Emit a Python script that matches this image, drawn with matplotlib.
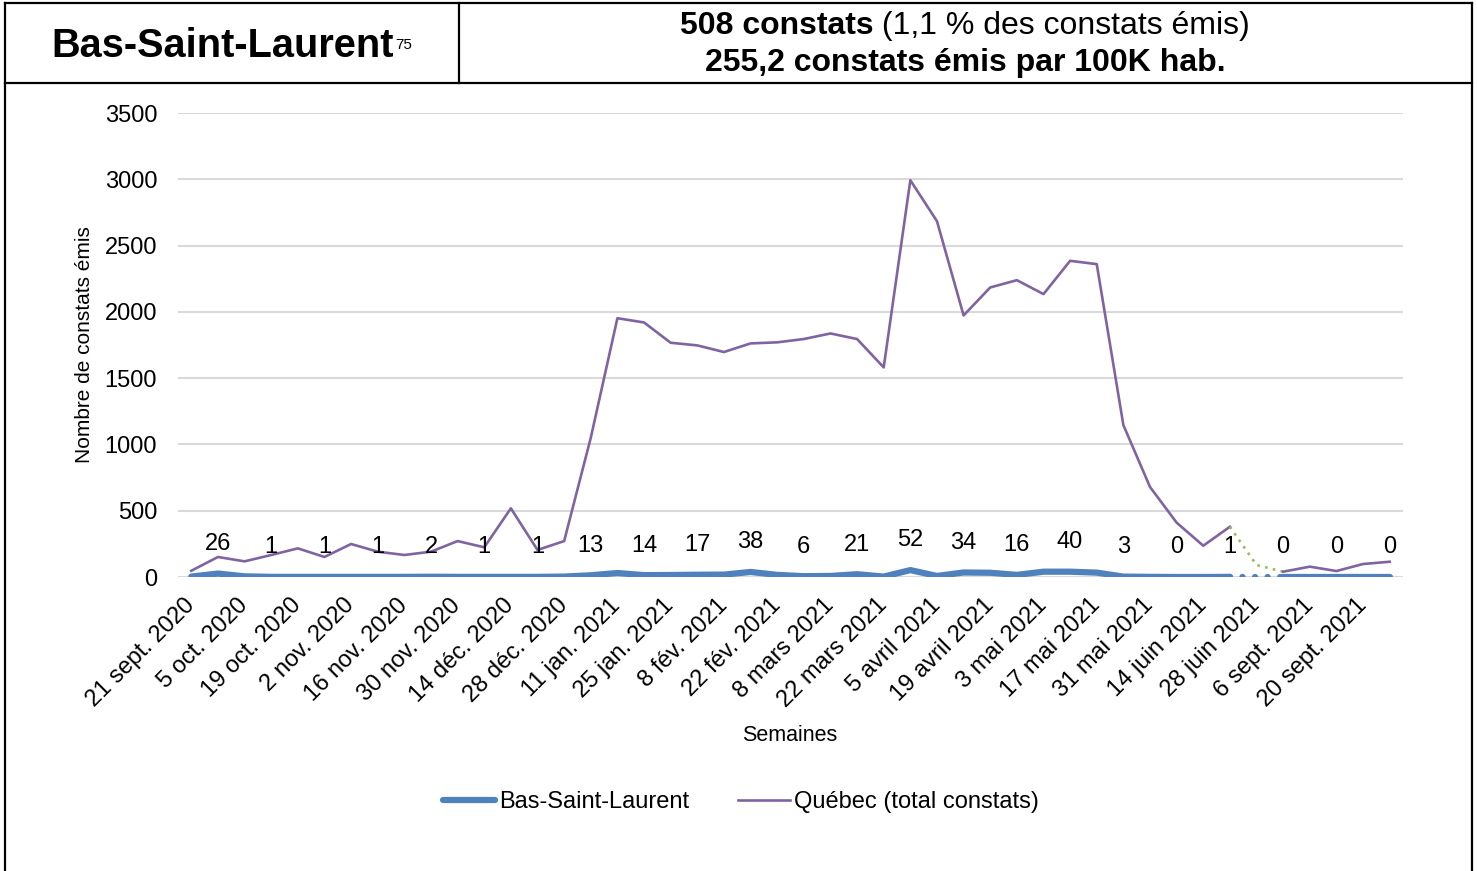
import matplotlib
matplotlib.use("Agg")
import matplotlib.pyplot as plt
from matplotlib.lines import Line2D
import numpy as np

plt.rcParams['font.family'] = ['Liberation Sans', 'DejaVu Sans']

# semaines (une étiquette sur deux est affichée)
semaines = ["21 sept. 2020", "28 sept. 2020", "5 oct. 2020", "12 oct. 2020", "19 oct. 2020",
            "26 oct. 2020", "2 nov. 2020", "9 nov. 2020", "16 nov. 2020", "23 nov. 2020",
            "30 nov. 2020", "7 déc. 2020", "14 déc. 2020", "21 déc. 2020", "28 déc. 2020",
            "4 jan. 2021", "11 jan. 2021", "18 jan. 2021", "25 jan. 2021", "1 fév. 2021",
            "8 fév. 2021", "15 fév. 2021", "22 fév. 2021", "1 mars 2021", "8 mars 2021",
            "15 mars 2021", "22 mars 2021", "29 mars 2021", "5 avril 2021", "12 avril 2021",
            "19 avril 2021", "26 avril 2021", "3 mai 2021", "10 mai 2021", "17 mai 2021",
            "24 mai 2021", "31 mai 2021", "7 juin 2021", "14 juin 2021", "21 juin 2021",
            "28 juin 2021", "30 août 2021", "6 sept. 2021", "13 sept. 2021", "20 sept. 2021",
            "27 sept. 2021"]

bsl = [3, 26, 5, 1, 1, 1, 1, 1, 1, 2, 1, 1, 1, 1, 3, 13, 30, 14, 15, 17,
       18, 38, 16, 6, 8, 21, 3, 52, 8, 34, 32, 16, 40, 40, 33, 3, 1, 0, 0, 1,
       0, 0, 0, 0, 0, 0]

quebec = [47, 151, 118, 166, 216, 151, 249, 191, 166, 191, 271, 224, 518, 204, 271,
          1050, 1952, 1920, 1767, 1747, 1697, 1762, 1770, 1795, 1837, 1795, 1581, 2993,
          2684, 1973, 2184, 2239, 2134, 2385, 2360, 1146, 679, 410, 236, 379,
          90, 40, 78, 45, 98, 115]

bleu = "#4F81BD"
violet = "#8064A2"
vert = "#9BBB59"

W, H = 1477, 871
fig = plt.figure(figsize=(W / 100, H / 100), dpi=100)
ax = fig.add_axes([178 / W, 1 - 577 / H, (1403 - 178) / W, (577 - 113) / H])

x = np.arange(len(semaines))
# segment pointillé entre 21 juin et 30 août
ax.plot(x[:40], bsl[:40], color=bleu, lw=4.5, solid_capstyle='round', zorder=2,
        label="Bas-Saint-Laurent")
ax.plot(x[39:42], bsl[39:42], color=bleu, lw=4.5, linestyle=(0, (0.01, 2)),
        dash_capstyle='round', zorder=2)
ax.plot(x[41:], bsl[41:], color=bleu, lw=4.5, solid_capstyle='round', zorder=2)

ax.plot(x[:40], quebec[:40], color=violet, lw=1.9, zorder=3, label="Québec (total constats)")
ax.plot(x[39:42], quebec[39:42], color=vert, lw=1.9, linestyle=(0, (1, 2)), zorder=3)
ax.plot(x[41:], quebec[41:], color=violet, lw=1.9, zorder=3)

for i in range(1, len(x), 2):
    ax.annotate(str(bsl[i]), (x[i], bsl[i]), xytext=(0, 17), textcoords='offset points',
                ha='center', va='baseline', fontsize=17)

ax.set_xlim(-0.5, len(x) - 0.5)
ax.set_ylim(0, 3500)
ax.set_yticks(range(0, 3501, 500))
ax.set_xticks(x[::2])
ax.set_xticklabels(semaines[::2], rotation=45, ha='right', va='center', rotation_mode='anchor')
ax.tick_params(axis='x', length=0, pad=18, labelsize=17)
ax.tick_params(axis='y', length=0, pad=15, labelsize=17)
ax.grid(axis='y', color='#D9D9D9', lw=1.5)
ax.set_axisbelow(True)
for s in ax.spines.values():
    s.set_visible(False)

fig.text(85 / W, 1 - 345 / H, "Nombre de constats émis", rotation=90, ha='center', va='center', fontsize=15)
fig.text(790 / W, 1 - 735 / H, "Semaines", ha='center', va='center', fontsize=15.5)

fig.legend(loc='center', bbox_to_anchor=(741 / W, 1 - 802 / H), ncol=2, frameon=False,
           fontsize=17, handlelength=2.2, handletextpad=0.17, columnspacing=2.1)

# en-tête encadré
def trait(x0, y0, x1, y1, lw=1.6):
    fig.add_artist(Line2D([x0 / W, x1 / W], [1 - y0 / H, 1 - y1 / H], color='black', lw=lw,
                          transform=fig.transFigure))

trait(5, 3, 1472, 3)
trait(5, 83, 1472, 83)
trait(5, 3, 5, H)
trait(1472, 3, 1472, H)
trait(459, 3, 459, 83)

titre = fig.text(51 / W, 1 - 46 / H, "Bas-Saint-Laurent", fontsize=28.6, fontweight='bold',
                 ha='left', va='center')
fig.canvas.draw()
r = fig.canvas.get_renderer()
bb = titre.get_window_extent(r)
fig.text((bb.x1 + 2) / W, 1 - 45 / H, "75", fontsize=11, ha='left', va='center')

t1 = fig.text(0, 1 - 26 / H, "508 constats", fontsize=23, fontweight='bold', ha='left', va='center')
t2 = fig.text(0, 1 - 26 / H, " (1,1 % des constats émis)", fontsize=23, ha='left', va='center')
w1 = t1.get_window_extent(r).width
w2 = t2.get_window_extent(r).width
x0 = 965 - (w1 + w2) / 2
t1.set_x(x0 / W)
t2.set_x((x0 + w1) / W)
fig.text(965 / W, 1 - 63 / H, "255,2 constats émis par 100K hab.", fontsize=23, fontweight='bold',
         ha='center', va='center')

fig.savefig("out.png", dpi=100)
